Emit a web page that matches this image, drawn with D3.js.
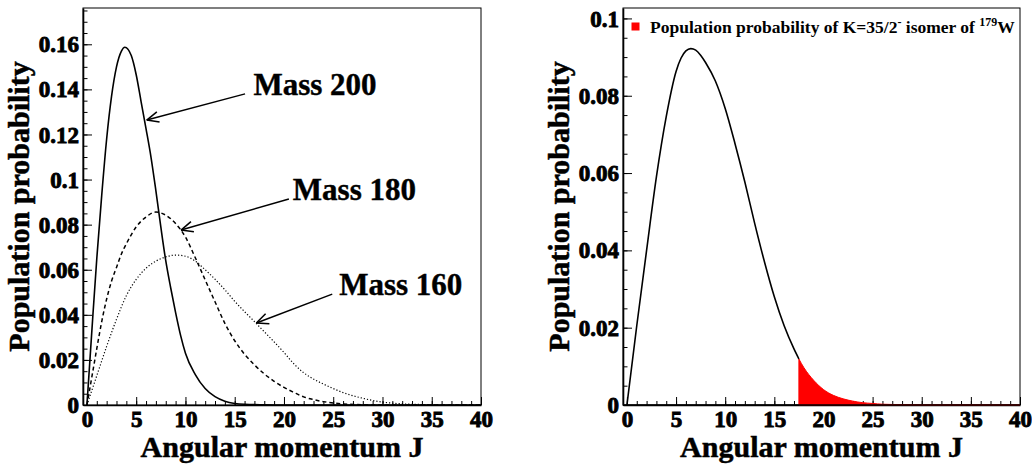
<!DOCTYPE html>
<html><head><meta charset="utf-8">
<script src="https://cdn.jsdelivr.net/npm/d3@7"></script>
<style>
body{margin:0;background:#fff}
svg{display:block}
text{font-family:"Liberation Serif","Times New Roman",serif;font-weight:bold;fill:#000}
.tl{font-size:23px;font-weight:bold;font-family:"Liberation Serif",serif;fill:#000;stroke:#000;stroke-width:0.9px}
</style>
</head><body>
<svg id="c" width="1032" height="464"></svg>
<script>
// ---------- data ----------
const xTickValues = [0,5,10,15,20,25,30,35,40];
const xTickLabels = ["0","5","10","15","20","25","30","35","40"];
const yTicksLeft = [0,0.02,0.04,0.06,0.08,0.1,0.12,0.14,0.16];
const yTickLabelsLeft = ["0","0.02","0.04","0.06","0.08","0.1","0.12","0.14","0.16"];
const yTicksRight = [0,0.02,0.04,0.06,0.08,0.1];
const yTickLabelsRight = ["0","0.02","0.04","0.06","0.08","0.1"];

// Mass 200 (solid)
const m200J = [0,0.5,1,1.5,2,2.5,3,3.5,3.85,4.5,5,5.5,6,6.5,7,7.5,8,8.5,9,9.5,10,11,12,13,14,15,16,18,20,25,30,35,40];
const m200P = [0,0.033,0.065,0.093,0.118,0.137,0.150,0.157,0.1587,0.155,0.1465,0.1345,0.1225,0.110,0.095,0.079,0.064,0.052,0.041,0.031,0.023,0.0135,0.0073,0.0037,0.0017,0.0007,0.0003,0.0001,0,0,0,0,0];
// Mass 180 (dashed)
const m180J = [0,0.5,1,1.5,2,2.5,3,3.5,4,5,6,7,8,9,10,11,12,13,14,15,16,17,18,19,20,21,22,23,24,25,26,28,30,35,40];
const m180P = [0,0.0125,0.025,0.037,0.047,0.055,0.061,0.067,0.0715,0.079,0.0834,0.0856,0.0842,0.0805,0.0745,0.0653,0.0555,0.0458,0.0362,0.0285,0.0225,0.0178,0.0138,0.0105,0.0078,0.0056,0.0036,0.0024,0.0015,0.0009,0.0005,0.0001,0,0,0];
// Mass 160 (dotted)
const m160J = [0,1,2,3,4,5,6,7,8,9,10,11,12,13,14,15,16,17,18,19,20,21,22,23,24,25,26,27,28,29,30,32,34,36,40];
const m160P = [0,0.013,0.026,0.038,0.0485,0.0557,0.0607,0.0638,0.0657,0.0665,0.0660,0.0638,0.0600,0.0558,0.0511,0.0460,0.0414,0.0370,0.0325,0.0280,0.0233,0.0183,0.0143,0.0115,0.0093,0.0073,0.0055,0.0041,0.0030,0.0020,0.0013,0.0005,0.0002,0,0];
// Right panel
const wJ = [0,1,2,3,4,5,5.5,6,6.5,7,7.5,8,9,10,11,12,13,14,15,16,17,17.5,18,19,20,21,22,23,24,25,26,28,30,35,40];
const wP = [0,0.0205,0.040,0.059,0.0746,0.0863,0.0897,0.0916,0.0922,0.0918,0.0905,0.0886,0.0838,0.0767,0.0676,0.0577,0.0470,0.0370,0.0280,0.0205,0.0145,0.0119,0.0097,0.0064,0.0040,0.0025,0.0016,0.0010,0.0006,0.0004,0.0002,0.0001,0,0,0];
const isomerStartJ = 17.5;

// annotations (data coordinates of the left panel)
const massLabels = ["Mass 200","Mass 180","Mass 160"];
const labelJ = [16.9, 20.9, 25.6];
const labelP = [0.1375, 0.091, 0.0488];
const arrowFromJ = [16.05, 20.5, 24.9];
const arrowFromP = [0.138, 0.0914, 0.0492];
const arrowToJ = [6.07, 9.55, 17.2];
const arrowToP = [0.1264, 0.0776, 0.0364];

const legendText = ["Population probability of K=35/2", "-", " isomer of ", "179", "W"];

// ---------- drawing ----------
const svg = d3.select("#c");

function panel(x0, x1, yMax, yTicks, yLabels) {
  const x = d3.scaleLinear([-0.4, 40], [x0, x1]);
  const y = d3.scaleLinear([0, yMax], [405, 8]);
  const g = svg.append("g");
  g.append("rect").attr("x", x0).attr("y", 8).attr("width", x1 - x0).attr("height", 397)
    .attr("fill", "none").attr("stroke", "#000").attr("stroke-width", 1);
  const yMinor = d3.range(0, yMax + 1e-9, 0.005);
  g.append("g").attr("transform", `translate(${x0},0)`)
    .call(d3.axisLeft(y).tickValues(yMinor).tickSize(-4.5).tickSizeOuter(0).tickFormat(""))
    .call(s => s.select(".domain").remove());
  const ya = g.append("g").attr("transform", `translate(${x0},0)`)
    .call(d3.axisLeft(y).tickValues(yTicks).tickSize(-9).tickSizeOuter(0).tickPadding(4)
      .tickFormat((d, i) => yLabels[i]));
  ya.attr("font-family", null).attr("font-size", null);
  ya.select(".domain").attr("stroke-width", 1.6);
  ya.selectAll(".tick text").attr("class", "tl").attr("dy", "0.33em");
  g.append("g").attr("transform", "translate(0,405)")
    .call(d3.axisBottom(x).tickValues(d3.range(0, 41, 1)).tickSize(-4).tickSizeOuter(0).tickFormat(""))
    .call(s => s.select(".domain").remove());
  const xa = g.append("g").attr("transform", "translate(0,405)")
    .call(d3.axisBottom(x).tickValues(xTickValues).tickSize(-8).tickSizeOuter(0).tickPadding(6)
      .tickFormat((d, i) => xTickLabels[i]));
  xa.attr("font-family", null).attr("font-size", null);
  xa.select(".domain").attr("stroke-width", 1.6);
  xa.selectAll(".tick text").attr("class", "tl");
  g.append("text").attr("x", (x0 + x1) / 2).attr("y", 457).attr("text-anchor", "middle")
    .style("font-size", "30px").attr("stroke", "#000").attr("stroke-width", 0.5).text("Angular momentum J");
  g.append("text").attr("transform", `translate(${x0 - 54},206.5) rotate(-90)`).attr("text-anchor", "middle")
    .style("font-size", "30px").attr("stroke", "#000").attr("stroke-width", 0.5).text("Population probability");
  return {x, y, g};
}

// Left panel
const L = panel(83, 481, 0.1761, yTicksLeft, yTickLabelsLeft);
const lineL = (J, P) => d3.line().x((d, i) => L.x(J[i])).y((d, i) => L.y(P[i])).curve(d3.curveMonotoneX)(J);
L.g.append("path").attr("d", lineL(m200J, m200P)).attr("fill", "none").attr("stroke", "#000").attr("stroke-width", 1.6);
L.g.append("path").attr("d", lineL(m180J, m180P)).attr("fill", "none").attr("stroke", "#000").attr("stroke-width", 1.5).attr("stroke-dasharray", "4,3");
L.g.append("path").attr("d", lineL(m160J, m160P)).attr("fill", "none").attr("stroke", "#000").attr("stroke-width", 1.2).attr("stroke-dasharray", "1.2,2");

massLabels.forEach((lab, i) => {
  const fx = L.x(arrowFromJ[i]), fy = L.y(arrowFromP[i]);
  const tx = L.x(arrowToJ[i]), ty = L.y(arrowToP[i]);
  L.g.append("line").attr("x1", fx).attr("y1", fy).attr("x2", tx).attr("y2", ty)
    .attr("stroke", "#000").attr("stroke-width", 1.5);
  const ang = Math.atan2(fy - ty, fx - tx);
  const len = 13, spread = 0.42;
  [ang - spread, ang + spread].forEach(a => {
    L.g.append("line").attr("x1", tx).attr("y1", ty)
      .attr("x2", tx + len * Math.cos(a)).attr("y2", ty + len * Math.sin(a))
      .attr("stroke", "#000").attr("stroke-width", 1.5);
  });
  L.g.append("text").attr("x", L.x(labelJ[i])).attr("y", L.y(labelP[i]))
    .style("font-size", "31px").attr("stroke", "#000").attr("stroke-width", 0.4).text(lab);
});

// Right panel
const R = panel(623, 1020, 0.1027, yTicksRight, yTickLabelsRight);
const wData = wJ.map((j, i) => ({j, p: wP[i]}));
const tail = wData.filter(d => d.j >= isomerStartJ);
const head = wData.filter(d => d.j <= isomerStartJ);
R.g.append("path").datum(tail)
  .attr("d", d3.area().x(d => R.x(d.j)).y0(R.y(0)).y1(d => R.y(d.p)).curve(d3.curveMonotoneX))
  .attr("fill", "#ff0000").attr("stroke", "#ff0000").attr("stroke-width", 1);
R.g.append("path").datum(head)
  .attr("d", d3.line().x(d => R.x(d.j)).y(d => R.y(d.p)).curve(d3.curveMonotoneX))
  .attr("fill", "none").attr("stroke", "#000").attr("stroke-width", 1.6);
R.g.append("line").attr("x1", 623).attr("x2", 1020).attr("y1", 405).attr("y2", 405).attr("stroke", "#000").attr("stroke-width", 1.6);

// legend
R.g.append("rect").attr("x", 631.5).attr("y", 22.5).attr("width", 8).attr("height", 8).attr("fill", "#ff0000");
const lt = R.g.append("text").attr("x", 650).attr("y", 32.5).style("font-size", "17.5px");
lt.append("tspan").text(legendText[0]);
lt.append("tspan").attr("dy", -7).style("font-size", "12px").text(legendText[1]);
lt.append("tspan").attr("dy", 7).text(legendText[2]);
lt.append("tspan").attr("dy", -7).style("font-size", "12px").text(legendText[3]);
lt.append("tspan").attr("dy", 7).text(legendText[4]);
</script>
</body></html>
